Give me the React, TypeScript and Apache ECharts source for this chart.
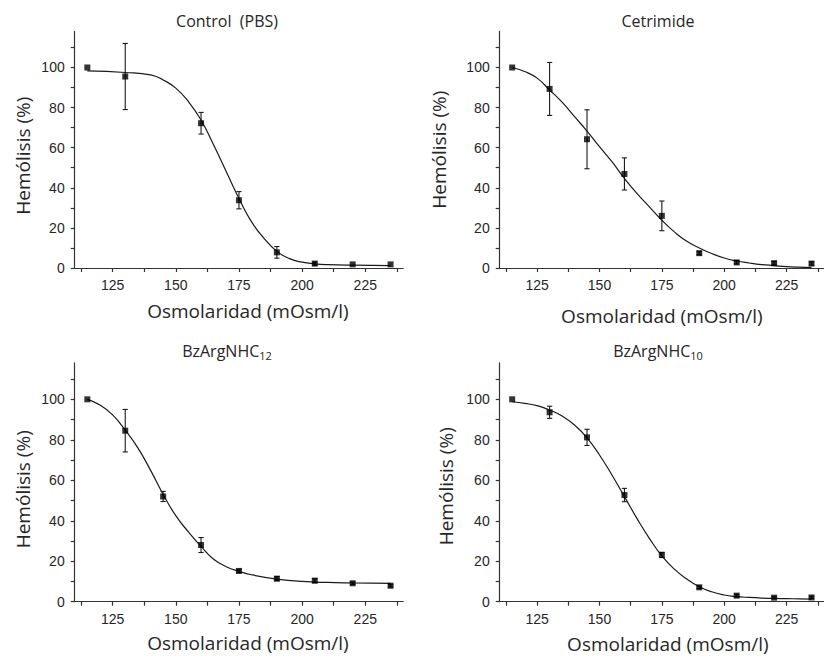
import React, { useEffect, useRef } from "react";
import * as echarts from "echarts";

// ---------- data ----------
const titles = ["Control  (PBS)", "Cetrimide", "BzArgNHC{sub|12}", "BzArgNHC{sub|10}"];
const xAxisName = "Osmolaridad (mOsm/l)";
const yAxisName = "Hemólisis (%)";

const xTickValues = [112.5, 125, 137.5, 150, 162.5, 175, 187.5, 200, 212.5, 225, 237.5];
const xLabelValues = [125, 150, 175, 200, 225];
const yTickValues = [0, 10, 20, 30, 40, 50, 60, 70, 80, 90, 100, 110];
const yLabelValues = [0, 20, 40, 60, 80, 100];

// Control (PBS)
const controlX = [115, 130, 160, 175, 190, 205, 220, 235];
const controlY = [100, 95.5, 72.2, 33.8, 7.8, 2.2, 1.8, 1.8];
const controlErr = [0, 16.5, 5.4, 4.3, 2.9, 0.8, 0, 0];
const controlFitX = [115, 130, 140, 145, 150, 155, 160, 165, 170, 175, 180, 185, 190, 195, 200, 205, 210, 220, 235];
const controlFitY = [98.3, 97.5, 96.3, 93.8, 89.7, 83, 73.8, 61.3, 48, 34.7, 23, 14.7, 8.3, 4.7, 2.9, 2.1, 1.7, 1.4, 1.2];

// Cetrimide
const cetrX = [115, 130, 145, 160, 175, 190, 205, 220, 235];
const cetrY = [100, 89.3, 64.2, 46.9, 26, 7.4, 2.8, 2.4, 2.2];
const cetrErr = [0, 13.2, 14.7, 8, 7.4, 0.8, 0.8, 0.8, 0.8];
const cetrFitX = [115, 120, 125, 130, 135, 140, 145, 150, 155, 160, 165, 170, 175, 180, 185, 190, 195, 200, 205, 210, 215, 220, 225, 230, 235];
const cetrFitY = [100, 98, 94.7, 88.8, 82.7, 75.5, 68.3, 60.5, 53, 44.7, 37.2, 30.5, 23.8, 18, 13.3, 10, 7.2, 5, 3.5, 2.5, 1.7, 1.2, 0.7, 0.4, 0.2];

// BzArgNHC12
const c12X = [115, 130, 145, 160, 175, 190, 205, 220, 235];
const c12Y = [100, 84.5, 52, 28, 15.2, 11.4, 10.4, 9.1, 7.9];
const c12Err = [0, 10.5, 2.5, 3.7, 0.8, 1, 1, 0.6, 0.6];
const c12FitX = [115, 120, 125, 130, 135, 140, 145, 150, 155, 160, 165, 170, 175, 180, 190, 200, 210, 220, 235];
const c12FitY = [100, 97.2, 92.3, 84.8, 76, 65, 53, 42.5, 34.5, 27.3, 21, 17.3, 15, 13.3, 11.2, 10, 9.5, 9.3, 9.1];

// BzArgNHC10
const c10X = [115, 130, 145, 160, 175, 190, 205, 220, 235];
const c10Y = [100, 93.6, 81.2, 52.7, 23.1, 7.1, 3, 2, 2.1];
const c10Err = [0, 3, 4, 3.3, 1.3, 0.6, 0.6, 0.5, 0.5];
const c10FitX = [115, 120, 125, 130, 135, 140, 145, 150, 155, 160, 165, 170, 175, 180, 185, 190, 195, 200, 205, 210, 215, 220, 225, 230, 235];
const c10FitY = [98.8, 98, 96.9, 94.7, 91.8, 87.3, 81, 72.5, 62.6, 51.9, 41.2, 31.3, 22.6, 16.1, 11.2, 7.4, 4.9, 3.3, 2.5, 2.1, 1.8, 1.6, 1.5, 1.4, 1.3];

const panels = [
  { x: controlX, y: controlY, err: controlErr, fx: controlFitX, fy: controlFitY },
  { x: cetrX, y: cetrY, err: cetrErr, fx: cetrFitX, fy: cetrFitY },
  { x: c12X, y: c12Y, err: c12Err, fx: c12FitX, fy: c12FitY },
  { x: c10X, y: c10Y, err: c10Err, fx: c10FitX, fy: c10FitY },
];

// ---------- layout ----------
const grids = [
  { left: 74.7, top: 31.4, width: 328.5, height: 236.6 },
  { left: 499.7, top: 31.4, width: 328.5, height: 236.6 },
  { left: 74.7, top: 362.9, width: 328.5, height: 238.8 },
  { left: 499.7, top: 362.9, width: 328.5, height: 238.8 },
];
const titlePos = [
  { x: 227, y: 21 },
  { x: 658, y: 21 },
  { x: 227, y: 351 },
  { x: 658, y: 351 },
];
const yNameGap = [42, 51, 42, 44];
const yNamePad = [
  [0, 12, 0, 0],
  [0, 0, 0, 0],
  [0, 14, 0, 0],
  [0, 8, 0, 0],
];
const xNameGap = [33, 38, 32, 19];
const xNamePad = [
  [0, 0, 0, 18],
  [0, 0, 0, 0],
  [0, 0, 0, 18],
  [8, 0, 0, 12],
];
const xNameBg = ["transparent", "transparent", "transparent", "#ffffff"];

const INK = "#1a1a1a";
const AXIS = "#333";
const TEXT = "#262626";

function errorBarItem(params: any, api: any) {
  const x = api.value(0);
  const lo = api.value(1);
  const hi = api.value(2);
  const pHi = api.coord([x, hi]);
  const pLo = api.coord([x, lo]);
  const w = 2.6;
  const style = { stroke: INK, lineWidth: 1.1 };
  return {
    type: "group",
    children: [
      { type: "line", shape: { x1: pHi[0], y1: pHi[1], x2: pLo[0], y2: pLo[1] }, style },
      { type: "line", shape: { x1: pHi[0] - w, y1: pHi[1], x2: pHi[0] + w, y2: pHi[1] }, style },
      { type: "line", shape: { x1: pLo[0] - w, y1: pLo[1], x2: pLo[0] + w, y2: pLo[1] }, style },
    ],
  };
}

export default function App() {
  const ref = useRef<HTMLDivElement>(null);

  useEffect(() => {
    if (!ref.current) return;
    const chart = echarts.init(ref.current, null, { renderer: "svg" });

    const title = titles.map((t, i) => ({
      text: t,
      left: titlePos[i].x,
      top: titlePos[i].y,
      textAlign: "center",
      textVerticalAlign: "middle",
      padding: 0,
      textStyle: {
        fontFamily: "Open Sans",
        fontSize: 16,
        fontWeight: "normal",
        color: TEXT,
        rich: {
          sub: { fontFamily: "Open Sans", fontSize: 11, color: TEXT, padding: [9, 0, 0, 0] },
        },
      },
    }));

    const xAxis = grids.map((_, i) => ({
      type: "value",
      gridIndex: i,
      min: 110,
      max: 240,
      name: xAxisName,
      nameLocation: "middle",
      nameGap: xNameGap[i],
      nameTextStyle: {
        fontFamily: "Open Sans",
        fontSize: 19,
        color: TEXT,
        padding: xNamePad[i],
        backgroundColor: xNameBg[i],
      },
      axisLine: { show: true, onZero: false, lineStyle: { color: AXIS, width: 1.2 } },
      axisTick: { show: true, inside: false, length: 4, customValues: xTickValues, lineStyle: { color: AXIS, width: 1.2 } },
      axisLabel: {
        customValues: xLabelValues,
        fontFamily: "Liberation Sans",
        fontSize: 14,
        color: TEXT,
        margin: 10,
      },
      splitLine: { show: false },
    }));

    const yAxis = grids.map((_, i) => ({
      type: "value",
      gridIndex: i,
      min: 0,
      max: 118,
      interval: 20,
      name: yAxisName,
      nameLocation: "middle",
      nameGap: yNameGap[i],
      nameTextStyle: {
        fontFamily: "Open Sans",
        fontSize: 19,
        color: TEXT,
        padding: yNamePad[i],
      },
      axisLine: { show: true, onZero: false, lineStyle: { color: AXIS, width: 1.2 } },
      axisTick: { show: true, inside: false, length: 4, customValues: yTickValues, lineStyle: { color: AXIS, width: 1.2 } },
      axisLabel: {
        customValues: yLabelValues,
        fontFamily: "Liberation Sans",
        fontSize: 14,
        color: TEXT,
        margin: 10,
      },
      splitLine: { show: false },
    }));

    const series: any[] = [];
    panels.forEach((p, i) => {
      series.push({
        type: "line",
        xAxisIndex: i,
        yAxisIndex: i,
        data: p.fx.map((x, k) => [x, p.fy[k]]),
        smooth: 0.5,
        showSymbol: false,
        symbol: "none",
        lineStyle: { color: INK, width: 1.2 },
        z: 2,
      });
      series.push({
        type: "custom",
        xAxisIndex: i,
        yAxisIndex: i,
        renderItem: errorBarItem,
        encode: { x: 0, y: [1, 2] },
        data: p.x
          .map((x, k) => [x, p.y[k] - p.err[k], p.y[k] + p.err[k]])
          .filter((_, k) => p.err[k] > 0),
        z: 3,
      });
      series.push({
        type: "scatter",
        xAxisIndex: i,
        yAxisIndex: i,
        data: p.x.map((x, k) => [x, p.y[k]]),
        symbol: "rect",
        symbolSize: 6,
        itemStyle: { color: "#000" },
        z: 4,
      });
    });

    chart.setOption({
      animation: false,
      backgroundColor: "#ffffff",
      title,
      grid: grids.map((g) => ({ ...g, containLabel: false })),
      xAxis,
      yAxis,
      series,
    });

    return () => chart.dispose();
  }, []);

  return (
    <div
      ref={ref}
      style={{ position: "absolute", left: 0, top: 0, width: 824, height: 660, background: "#fff" }}
    />
  );
}
